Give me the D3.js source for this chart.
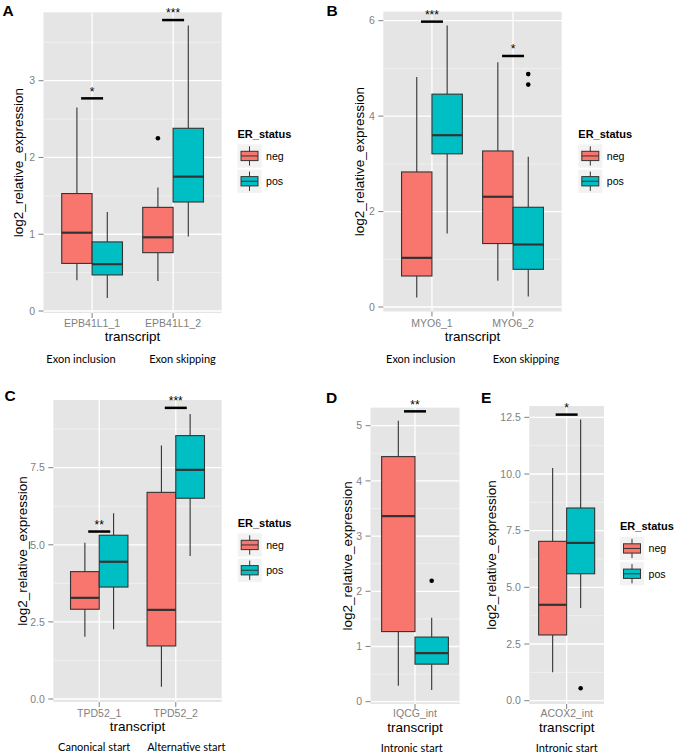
<!DOCTYPE html>
<html><head><meta charset="utf-8">
<script src="https://cdn.jsdelivr.net/npm/d3@7"></script>
<style>body{margin:0;background:#fff}svg{display:block}</style>
</head><body><svg id="chart" width="675" height="754"></svg>
<script>
// ---------------- DATA ----------------
// box stats: [lower whisker, Q1, median, Q3, upper whisker]
const groups = ["neg", "pos"];
const groupColors = ["#F8766D", "#00BFC4"];

const A_transcripts = ["EPB41L1_1", "EPB41L1_2"];
const A_neg = [[0.40, 0.62, 1.02, 1.53, 2.65], [0.39, 0.76, 0.96, 1.35, 1.61]];
const A_pos = [[0.17, 0.47, 0.61, 0.90, 1.29], [0.97, 1.42, 1.75, 2.38, 3.72]];
const A_outliers = [{t: "EPB41L1_2", g: "neg", v: 2.25}];
const A_sig = [{t: "EPB41L1_1", v: 2.77, s: "*"}, {t: "EPB41L1_2", v: 3.79, s: "***"}];
const A_yTicks = [0, 1, 2, 3];
const A_yMinor = [0.5, 1.5, 2.5, 3.5];
const A_notes = ["Exon inclusion", "Exon skipping"];

const B_transcripts = ["MYO6_1", "MYO6_2"];
const B_neg = [[0.20, 0.65, 1.03, 2.83, 4.82], [0.55, 1.33, 2.31, 3.27, 5.13]];
const B_pos = [[1.54, 3.21, 3.60, 4.46, 5.90], [0.22, 0.79, 1.31, 2.09, 3.15]];
const B_outliers = [{t: "MYO6_2", g: "pos", v: 4.88}, {t: "MYO6_2", g: "pos", v: 4.66}];
const B_sig = [{t: "MYO6_1", v: 5.98, s: "***"}, {t: "MYO6_2", v: 5.26, s: "*"}];
const B_yTicks = [0, 2, 4, 6];
const B_yMinor = [1, 3, 5];
const B_notes = ["Exon inclusion", "Exon skipping"];

const C_transcripts = ["TPD52_1", "TPD52_2"];
const C_neg = [[2.02, 2.91, 3.28, 4.13, 5.07], [0.40, 1.72, 2.89, 6.70, 8.22]];
const C_pos = [[2.26, 3.63, 4.45, 5.31, 6.02], [4.64, 6.51, 7.43, 8.54, 9.24]];
const C_outliers = [];
const C_sig = [{t: "TPD52_1", v: 5.43, s: "**"}, {t: "TPD52_2", v: 9.44, s: "***"}];
const C_yTicks = [0, 2.5, 5, 7.5];
const C_yMinor = [1.25, 3.75, 6.25, 8.75];
const C_notes = ["Canonical start", "Alternative start"];

const D_transcripts = ["IQCG_int"];
const D_neg = [[0.29, 1.27, 3.36, 4.44, 5.09]];
const D_pos = [[0.21, 0.68, 0.88, 1.17, 1.52]];
const D_outliers = [{t: "IQCG_int", g: "pos", v: 2.19}];
const D_sig = [{t: "IQCG_int", v: 5.26, s: "**"}];
const D_yTicks = [0, 1, 2, 3, 4, 5];
const D_yMinor = [0.5, 1.5, 2.5, 3.5, 4.5];
const D_notes = ["Intronic start"];

const E_transcripts = ["ACOX2_int"];
const E_neg = [[1.25, 2.90, 4.23, 7.03, 10.26]];
const E_pos = [[4.09, 5.60, 6.96, 8.50, 12.40]];
const E_outliers = [{t: "ACOX2_int", g: "pos", v: 0.55}];
const E_sig = [{t: "ACOX2_int", v: 12.62, s: "*"}];
const E_yTicks = [0, 2.5, 5, 7.5, 10, 12.5];
const E_yMinor = [1.25, 3.75, 6.25, 8.75, 11.25];
const E_notes = ["Intronic start"];

// ---------------- LAYOUT ----------------
const SANS = "'Liberation Sans', Arial, Helvetica, sans-serif";
const NOTE_FONT = "Lato, 'Open Sans', sans-serif";

const panels = [
  {id: "A", tr: A_transcripts, neg: A_neg, pos: A_pos, out: A_outliers, sig: A_sig, ticks: A_yTicks, minor: A_yMinor, fmt: d3.format("d"), notes: A_notes,
   r: {x0: 43.5, x1: 221.7, y0: 12.3, y1: 313}, yDom: [-0.026, 3.891], xDom: [0.4, 2.6],
   label: [2.5, 16], yTitleX: 23, tickY: 327, titleY: 341, noteY: 363, noteX: [81, 182.5], legend: [237.5, 137.5]},
  {id: "B", tr: B_transcripts, neg: B_neg, pos: B_pos, out: B_outliers, sig: B_sig, ticks: B_yTicks, minor: B_yMinor, fmt: d3.format("d"), notes: B_notes,
   r: {x0: 383.3, x1: 561.7, y0: 11.7, y1: 311.5}, yDom: [-0.094, 6.188], xDom: [0.4, 2.6],
   label: [326.5, 16], yTitleX: 363.5, tickY: 327, titleY: 341, noteY: 363, noteX: [420.7, 526], legend: [578.3, 137.5]},
  {id: "C", tr: C_transcripts, neg: C_neg, pos: C_pos, out: C_outliers, sig: C_sig, ticks: C_yTicks, minor: C_yMinor, fmt: d3.format(".1f"), notes: C_notes,
   r: {x0: 53.3, x1: 221.7, y0: 400, y1: 702}, yDom: [-0.097, 9.695], xDom: [0.4, 2.6],
   label: [4.5, 401], yTitleX: 27, tickY: 717, titleY: 730.5, noteY: 750.5, noteX: [94.2, 186.3], legend: [237.7, 526.5]},
  {id: "D", tr: D_transcripts, neg: D_neg, pos: D_pos, out: D_outliers, sig: D_sig, ticks: D_yTicks, minor: D_yMinor, fmt: d3.format("d"), notes: D_notes,
   r: {x0: 370.5, x1: 459.5, y0: 407.7, y1: 704}, yDom: [-0.042, 5.326], xDom: [0.5, 1.5],
   label: [326, 402.5], yTitleX: 351.5, tickY: 717, titleY: 732, noteY: 751.5, noteX: [411.7], legend: null},
  {id: "E", tr: E_transcripts, neg: E_neg, pos: E_pos, out: E_outliers, sig: E_sig, ticks: E_yTicks, minor: E_yMinor, fmt: d3.format(".1f"), notes: E_notes,
   r: {x0: 529.3, x1: 604, y0: 406, y1: 704}, yDom: [-0.146, 13.0], xDom: [0.5, 1.5],
   label: [481, 402.5], yTitleX: 495.5, tickY: 717, titleY: 732, noteY: 751.5, noteX: [566.8], legend: [620, 530]}
];

const svg = d3.select("#chart");

function drawPanel(p) {
  const g = svg.append("g");
  const x = d3.scaleLinear().domain(p.xDom).range([p.r.x0, p.r.x1]);
  const y = d3.scaleLinear().domain(p.yDom).range([p.r.y1, p.r.y0]);
  const idx = t => p.tr.indexOf(t) + 1;
  const half = 0.375;

  // background
  g.append("rect").attr("x", p.r.x0).attr("y", p.r.y0)
    .attr("width", p.r.x1 - p.r.x0).attr("height", p.r.y1 - p.r.y0).attr("fill", "#E5E5E5");
  // minor grid
  g.selectAll(".mn").data(p.minor).join("line")
    .attr("x1", p.r.x0).attr("x2", p.r.x1).attr("y1", d => y(d)).attr("y2", d => y(d))
    .attr("stroke", "#F2F2F2").attr("stroke-width", 0.8);
  // major grid
  g.selectAll(".mj").data(p.ticks).join("line")
    .attr("x1", p.r.x0).attr("x2", p.r.x1).attr("y1", d => y(d)).attr("y2", d => y(d))
    .attr("stroke", "#FFFFFF").attr("stroke-width", 1.3);
  g.selectAll(".vx").data(p.tr).join("line")
    .attr("x1", (d, i) => x(i + 1)).attr("x2", (d, i) => x(i + 1))
    .attr("y1", p.r.y0).attr("y2", p.r.y1)
    .attr("stroke", "#FFFFFF").attr("stroke-width", 1.3);

  // y axis ticks + labels
  g.selectAll(".yt").data(p.ticks).join("line")
    .attr("x1", p.r.x0 - 5).attr("x2", p.r.x0).attr("y1", d => y(d)).attr("y2", d => y(d))
    .attr("stroke", "#7F7F7F").attr("stroke-width", 1);
  g.selectAll(".yl").data(p.ticks).join("text")
    .attr("x", p.r.x0 - 8.5).attr("y", d => y(d)).attr("dy", "0.36em")
    .attr("text-anchor", "end").attr("font-family", SANS).attr("font-size", 10.5)
    .attr("fill", "#7F7F7F").text(d => p.fmt(d));
  // x axis ticks + labels
  g.selectAll(".xt").data(p.tr).join("line")
    .attr("x1", (d, i) => x(i + 1)).attr("x2", (d, i) => x(i + 1))
    .attr("y1", p.r.y1).attr("y2", p.r.y1 + 5)
    .attr("stroke", "#7F7F7F").attr("stroke-width", 1);
  g.selectAll(".xl").data(p.tr).join("text")
    .attr("x", (d, i) => x(i + 1)).attr("y", p.tickY)
    .attr("text-anchor", "middle").attr("font-family", SANS).attr("font-size", 10.5)
    .attr("fill", "#7F7F7F").text(d => d);
  // axis titles
  g.append("text").attr("x", (p.r.x0 + p.r.x1) / 2).attr("y", p.titleY)
    .attr("text-anchor", "middle").attr("font-family", SANS).attr("font-size", 13.5)
    .attr("fill", "#000").text("transcript");
  g.append("text").attr("transform", `translate(${p.yTitleX},${(p.r.y0 + p.r.y1) / 2}) rotate(-90)`)
    .attr("text-anchor", "middle").attr("font-family", SANS).attr("font-size", 13.5)
    .attr("fill", "#000").text("log2_relative_expression");

  // boxes
  const boxes = [];
  p.tr.forEach((t, i) => {
    boxes.push({i: i + 1, gi: 0, s: p.neg[i]});
    boxes.push({i: i + 1, gi: 1, s: p.pos[i]});
  });
  const left = b => b.gi === 0 ? x(b.i - half) : x(b.i);
  const right = b => b.gi === 0 ? x(b.i) : x(b.i + half);
  const mid = b => (left(b) + right(b)) / 2;
  const bg = g.selectAll(".box").data(boxes).join("g");
  bg.append("line").attr("x1", mid).attr("x2", mid)
    .attr("y1", b => y(b.s[0])).attr("y2", b => y(b.s[1]))
    .attr("stroke", "#333333").attr("stroke-width", 1.1);
  bg.append("line").attr("x1", mid).attr("x2", mid)
    .attr("y1", b => y(b.s[3])).attr("y2", b => y(b.s[4]))
    .attr("stroke", "#333333").attr("stroke-width", 1.1);
  bg.append("rect").attr("x", left).attr("width", b => right(b) - left(b))
    .attr("y", b => y(b.s[3])).attr("height", b => y(b.s[1]) - y(b.s[3]))
    .attr("fill", b => groupColors[b.gi]).attr("stroke", "#333333").attr("stroke-width", 1.1);
  bg.append("line").attr("x1", left).attr("x2", right)
    .attr("y1", b => y(b.s[2])).attr("y2", b => y(b.s[2]))
    .attr("stroke", "#333333").attr("stroke-width", 2.2);

  // outliers
  g.selectAll(".out").data(p.out).join("circle")
    .attr("cx", d => { const i = idx(d.t); return d.g === "neg" ? x(i - half / 2) : x(i + half / 2); })
    .attr("cy", d => y(d.v)).attr("r", 2.3).attr("fill", "#000");

  // significance bars
  g.selectAll(".sb").data(p.sig).join("line")
    .attr("x1", d => x(idx(d.t)) - 11).attr("x2", d => x(idx(d.t)) + 11)
    .attr("y1", d => y(d.v)).attr("y2", d => y(d.v))
    .attr("stroke", "#000").attr("stroke-width", 2.5);
  g.selectAll(".st").data(p.sig).join("text")
    .attr("x", d => x(idx(d.t))).attr("y", d => y(d.v) - 2.7)
    .attr("text-anchor", "middle").attr("font-family", SANS).attr("font-size", 12)
    .attr("fill", "#000").text(d => d.s);

  // notes below axis
  g.selectAll(".note").data(p.notes).join("text")
    .attr("x", (d, i) => p.noteX[i]).attr("y", p.noteY)
    .attr("text-anchor", "middle").attr("font-family", NOTE_FONT).attr("font-size", 11)
    .attr("fill", "#000").text(d => d);

  // panel label
  g.append("text").attr("x", p.label[0]).attr("y", p.label[1])
    .attr("font-family", SANS).attr("font-weight", "bold").attr("font-size", 15.5)
    .attr("fill", "#000").text(p.id);

  // legend
  if (p.legend) {
    const [lx, ly] = p.legend;
    const L = g.append("g");
    L.append("text").attr("x", lx).attr("y", ly).attr("font-family", SANS)
      .attr("font-weight", "bold").attr("font-size", 11).attr("fill", "#000").text("ER_status");
    const kw = 24, kh = 23.3, gap = 2;
    groups.forEach((gr, k) => {
      const ky = ly + 6.8 + k * (kh + gap);
      L.append("rect").attr("x", lx).attr("y", ky).attr("width", kw).attr("height", kh).attr("fill", "#F2F2F2");
      L.append("line").attr("x1", lx + kw / 2).attr("x2", lx + kw / 2).attr("y1", ky + 2).attr("y2", ky + kh - 2)
        .attr("stroke", "#333333").attr("stroke-width", 1);
      L.append("rect").attr("x", lx + 3.5).attr("y", ky + 7).attr("width", kw - 7).attr("height", kh - 14)
        .attr("fill", groupColors[k]).attr("stroke", "#333333").attr("stroke-width", 1);
      L.append("line").attr("x1", lx + 3.5).attr("x2", lx + kw - 3.5).attr("y1", ky + kh / 2).attr("y2", ky + kh / 2)
        .attr("stroke", "#333333").attr("stroke-width", 1);
      L.append("text").attr("x", lx + kw + 4.5).attr("y", ky + kh / 2).attr("dy", "0.36em")
        .attr("font-family", SANS).attr("font-size", 10.6).attr("fill", "#000").text(gr);
    });
  }
}

panels.forEach(drawPanel);
</script></body></html>
